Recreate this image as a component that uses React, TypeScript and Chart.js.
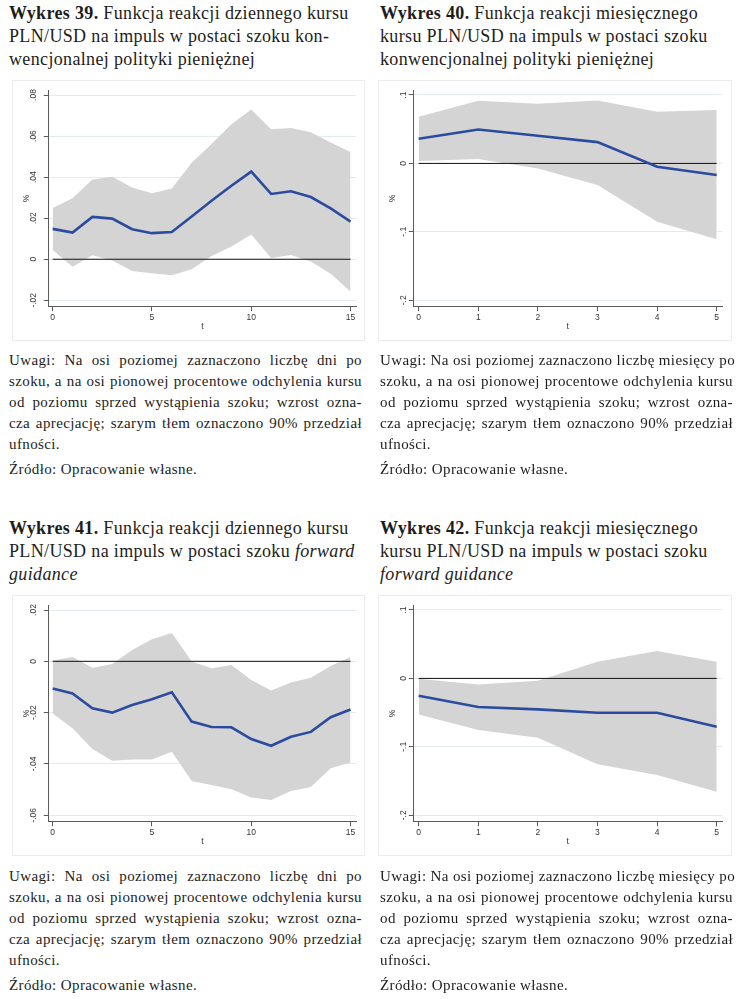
import React, { useEffect, useRef } from 'react';
import { Chart, registerables } from 'chart.js';

Chart.register(...registerables);

// ---------- data ----------
const daysAfterShock = [0, 1, 2, 3, 4, 5, 6, 7, 8, 9, 10, 11, 12, 13, 14, 15];
const monthsAfterShock = [0, 1, 2, 3, 4, 5];

// Wykres 39 – conventional policy, daily
const convDailyMean = [0.0148, 0.013, 0.0206, 0.0198, 0.0146, 0.0127, 0.0133, 0.0208, 0.0285, 0.0358, 0.0427, 0.0318, 0.0331, 0.0303, 0.0248, 0.0183];
const convDailyUpper = [0.025, 0.0297, 0.0389, 0.0402, 0.035, 0.0321, 0.0345, 0.047, 0.0561, 0.0657, 0.073, 0.0633, 0.0639, 0.0618, 0.0569, 0.0522];
const convDailyLower = [0.0045, -0.0036, 0.0019, -0.0006, -0.0057, -0.0068, -0.0078, -0.0049, 0.0016, 0.0062, 0.012, 0.0006, 0.0021, -0.0011, -0.0071, -0.0157];

// Wykres 40 – conventional policy, monthly
const convMonthlyMean = [0.036, 0.0496, 0.0404, 0.0311, -0.0049, -0.017];
const convMonthlyUpper = [0.0681, 0.0915, 0.0871, 0.092, 0.0754, 0.0779];
const convMonthlyLower = [0.0034, 0.0063, -0.0073, -0.0316, -0.0852, -0.1109];

// Wykres 41 – forward guidance, daily
const fgDailyMean = [-0.0106, -0.0125, -0.0183, -0.02, -0.017, -0.0148, -0.0121, -0.0235, -0.0256, -0.0257, -0.0303, -0.0329, -0.0294, -0.0275, -0.0218, -0.0188];
const fgDailyUpper = [0.0003, 0.0017, -0.0025, -0.001, 0.0044, 0.0086, 0.011, -0.0001, -0.0027, -0.0014, -0.0073, -0.0114, -0.0083, -0.0064, -0.0018, 0.0017];
const fgDailyLower = [-0.0203, -0.0261, -0.0342, -0.0387, -0.0383, -0.0383, -0.0352, -0.0466, -0.0482, -0.0499, -0.0531, -0.054, -0.0505, -0.049, -0.0417, -0.0394];

// Wykres 42 – forward guidance, monthly
const fgMonthlyMean = [-0.0253, -0.0418, -0.0453, -0.0501, -0.0501, -0.0706];
const fgMonthlyUpper = [-0.0005, -0.0088, -0.0034, 0.0243, 0.0399, 0.0243];
const fgMonthlyLower = [-0.0526, -0.0754, -0.0866, -0.1255, -0.1411, -0.1655];

// tick values
const xTicksDays = [0, 5, 10, 15];
const xTicksMonths = [0, 1, 2, 3, 4, 5];
const yTicks39 = [-0.02, 0, 0.02, 0.04, 0.06, 0.08];
const yTicks41 = [-0.06, -0.04, -0.02, 0, 0.02];
const yTicksMonthly = [-0.2, -0.1, 0, 0.1];

// ---------- styles ----------
const BAND = '#d4d4d4';
const BLUE = '#2b4c9e';
const AXIS = '#5a5a5a';
const GRID = '#e2ecef';
const TICK_TXT = '#333333';
const SANS = '"Liberation Sans", Arial, sans-serif';
const SERIF = '"Liberation Serif", "Times New Roman", serif';

const fmtTick = (v: number) => {
  if (v === 0) return '0';
  const s = String(Math.abs(v)).replace(/^0/, '');
  return (v < 0 ? '-' : '') + s;
};

type ChartProps = {
  t: number[];
  mean: number[];
  upper: number[];
  lower: number[];
  xTicks: number[];
  yTicks: number[];
  xMin: number;
  xMax: number;
  yMin: number;
  yMax: number;
  yAxisWidth: number;
  yTickPad: number;
  rightPad: number;
  left: number;
  top: number;
  w: number;
  h: number;
};

function IrfChart(p: ChartProps) {
  const ref = useRef<HTMLCanvasElement | null>(null);
  useEffect(() => {
    const c = ref.current;
    if (!c) return;
    const pts = (arr: number[]) => arr.map((v, i) => ({ x: p.t[i], y: v }));
    const font = { family: SANS, size: 8.5 };
    const chart = new Chart(c, {
      type: 'line',
      data: {
        datasets: [
          { data: pts(p.mean), borderColor: BLUE, borderWidth: 2.6, pointRadius: 0, fill: false, tension: 0 },
          {
            data: [
              { x: p.t[0], y: 0 },
              { x: p.t[p.t.length - 1], y: 0 },
            ],
            borderColor: '#111111',
            borderWidth: 1,
            pointRadius: 0,
            fill: false,
          },
          { data: pts(p.upper), borderWidth: 0, borderColor: 'rgba(0,0,0,0)', backgroundColor: BAND, pointRadius: 0, fill: '+1' },
          { data: pts(p.lower), borderWidth: 0, borderColor: 'rgba(0,0,0,0)', pointRadius: 0, fill: false },
        ],
      } as any,
      options: {
        responsive: false,
        animation: false,
        events: [],
        layout: { autoPadding: false, padding: { left: 0, top: 10, right: p.rightPad, bottom: 0 } },
        plugins: { legend: { display: false }, tooltip: { enabled: false } },
        scales: {
          x: {
            type: 'linear',
            min: p.xMin,
            max: p.xMax,
            afterBuildTicks: (s: any) => {
              s.ticks = p.xTicks.map((v) => ({ value: v }));
            },
            afterFit: (s: any) => {
              s.height = 34.3;
            },
            grid: { drawOnChartArea: false, drawTicks: true, tickLength: 4.5, tickColor: AXIS, tickWidth: 1 },
            border: { display: true, color: AXIS, width: 1 },
            ticks: {
              font,
              color: TICK_TXT,
              padding: 1,
              minRotation: 0,
              maxRotation: 0,
              autoSkip: false,
              callback: (v: any) => String(v),
            },
            title: { display: true, text: 't', font, color: TICK_TXT, padding: { top: 0, bottom: 9.2 } },
          },
          y: {
            type: 'linear',
            min: p.yMin,
            max: p.yMax,
            afterBuildTicks: (s: any) => {
              s.ticks = p.yTicks.map((v) => ({ value: v }));
            },
            afterFit: (s: any) => {
              s.width = p.yAxisWidth;
            },
            grid: { color: GRID, lineWidth: 1, drawTicks: true, tickLength: 4.5, tickColor: AXIS, tickWidth: 1 },
            border: { display: true, color: AXIS, width: 1 },
            ticks: {
              font,
              color: TICK_TXT,
              minRotation: 90,
              maxRotation: 90,
              crossAlign: 'center',
              padding: p.yTickPad,
              autoSkip: false,
              callback: (v: any) => fmtTick(Number(v)),
            },
            title: { display: true, text: '%', font, color: TICK_TXT, padding: { top: 10, bottom: 0 } },
          },
        },
      } as any,
    });
    return () => chart.destroy();
  }, []);
  return (
    <canvas
      ref={ref}
      width={p.w}
      height={p.h}
      style={{
        position: 'absolute',
        left: p.left,
        top: p.top,
        width: p.w,
        height: p.h,
        outline: '1px solid #ececec',
        outlineOffset: -1,
      }}
    />
  );
}

// ---------- text ----------
type LineProps = { left: number; top: number; width: number; size: number; lh: number; ls: number; justify?: boolean; children: React.ReactNode };
function Line({ left, top, width, size, lh, ls, justify, children }: LineProps) {
  return (
    <div
      style={{
        position: 'absolute',
        left,
        top,
        width,
        height: lh,
        fontSize: size,
        lineHeight: lh + 'px',
        letterSpacing: ls,
        fontFamily: SERIF,
        color: '#1d1d1b',
        whiteSpace: 'nowrap',
        textAlign: justify ? 'justify' : 'left',
        textAlignLast: justify ? 'justify' : 'left',
      } as any}
    >
      {children}
    </div>
  );
}

const TITLE_SIZE = 18;
const TITLE_LH = 23;
const TITLE_LS = 0.35;
const NOTE_SIZE = 15;
const NOTE_LH = 21;
const NOTE_LS = 0.38;
const COL_L = 9;
const COL_R = 380;
const COL_W = 353;

function Title({ x, y, lines }: { x: number; y: number; lines: React.ReactNode[] }) {
  return (
    <>
      {lines.map((l, i) => (
        <Line key={i} left={x} top={y + i * TITLE_LH} width={COL_W + 10} size={TITLE_SIZE} lh={TITLE_LH} ls={TITLE_LS}>
          {l}
        </Line>
      ))}
    </>
  );
}

function Notes({ x, y, unit }: { x: number; y: number; unit: string }) {
  const lines = [
    `Uwagi: Na osi poziomej zaznaczono liczbę ${unit} po`,
    'szoku, a na osi pionowej procentowe odchylenia kursu',
    'od poziomu sprzed wystąpienia szoku; wzrost ozna-',
    'cza aprecjację; szarym tłem oznaczono 90% przedział',
  ];
  return (
    <>
      {lines.map((l, i) => (
        <Line key={i} left={x} top={y + i * NOTE_LH} width={COL_W} size={NOTE_SIZE} lh={NOTE_LH} ls={NOTE_LS} justify>
          {l}
        </Line>
      ))}
      <Line left={x} top={y + 4 * NOTE_LH} width={COL_W} size={NOTE_SIZE} lh={NOTE_LH} ls={NOTE_LS}>
        ufności.
      </Line>
      <Line left={x} top={y + 4 * NOTE_LH + 25} width={COL_W} size={NOTE_SIZE} lh={NOTE_LH} ls={NOTE_LS}>
        Źródło: Opracowanie własne.
      </Line>
    </>
  );
}

export default function App() {
  const B2 = 515;
  const dailyCommon = { t: daysAfterShock, xTicks: xTicksDays, xMin: -0.22, xMax: 15.3, yAxisWidth: 36.3, yTickPad: 3, rightPad: 8.5, w: 353, h: 261 };
  const monthlyCommon = { t: monthsAfterShock, xTicks: xTicksMonths, xMin: -0.09, xMax: 5.094, yAxisWidth: 35.3, yTickPad: 0, rightPad: 9.7, w: 354, h: 261, yTicks: yTicksMonthly, yMin: -0.2094, yMax: 0.1073 };
  return (
    <div style={{ position: 'absolute', left: 0, top: 0, width: 742, height: 999, background: '#ffffff', overflow: 'hidden' }}>
      <Title
        x={COL_L}
        y={2}
        lines={[
          <><b>Wykres 39.</b> Funkcja reakcji dziennego kursu</>,
          'PLN/USD na impuls w postaci szoku kon-',
          'wencjonalnej polityki pieniężnej',
        ]}
      />
      <Title
        x={COL_R}
        y={2}
        lines={[
          <><b>Wykres 40.</b> Funkcja reakcji miesięcznego</>,
          'kursu PLN/USD na impuls w postaci szoku',
          'konwencjonalnej polityki pieniężnej',
        ]}
      />
      <IrfChart {...dailyCommon} mean={convDailyMean} upper={convDailyUpper} lower={convDailyLower} yTicks={yTicks39} yMin={-0.02312} yMax={0.08244} left={12} top={80} />
      <IrfChart {...monthlyCommon} mean={convMonthlyMean} upper={convMonthlyUpper} lower={convMonthlyLower} left={378} top={80} />
      <Notes x={COL_L} y={350} unit="dni" />
      <Notes x={COL_R} y={350} unit="miesięcy" />

      <Title
        x={COL_L}
        y={2 + B2}
        lines={[
          <><b>Wykres 41.</b> Funkcja reakcji dziennego kursu</>,
          <>PLN/USD na impuls w postaci szoku <i>forward</i></>,
          <i>guidance</i>,
        ]}
      />
      <Title
        x={COL_R}
        y={2 + B2}
        lines={[
          <><b>Wykres 42.</b> Funkcja reakcji miesięcznego</>,
          'kursu PLN/USD na impuls w postaci szoku',
          <i>forward guidance</i>,
        ]}
      />
      <IrfChart {...dailyCommon} mean={fgDailyMean} upper={fgDailyUpper} lower={fgDailyLower} yTicks={yTicks41} yMin={-0.0625} yMax={0.02195} left={12} top={80 + B2} />
      <IrfChart {...monthlyCommon} mean={fgMonthlyMean} upper={fgMonthlyUpper} lower={fgMonthlyLower} left={378} top={80 + B2} />
      <Notes x={COL_L} y={351 + B2} unit="dni" />
      <Notes x={COL_R} y={351 + B2} unit="miesięcy" />
    </div>
  );
}
